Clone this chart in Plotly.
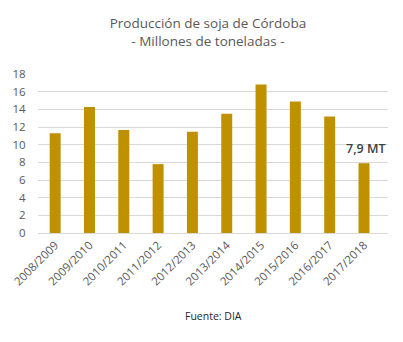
import plotly.graph_objects as go

campaigns = ["2008/2009", "2009/2010", "2010/2011", "2011/2012", "2012/2013",
             "2013/2014", "2014/2015", "2015/2016", "2016/2017", "2017/2018"]
production = [11.3, 14.25, 11.65, 7.8, 11.45, 13.5, 16.8, 14.9, 13.2, 7.9]
y_ticks = [0, 2, 4, 6, 8, 10, 12, 14, 16, 18]
label_text = "7,9 MT"

fig = go.Figure(go.Bar(x=campaigns, y=production, marker_color="#BF9000",
                       marker_line_width=0))

font_family = "Open Sans, Liberation Sans, sans-serif"
fig.update_layout(
    width=403, height=342,
    margin=dict(l=38, r=15, t=74, b=109),
    paper_bgcolor="white", plot_bgcolor="white",
    bargap=0.68,
    showlegend=False,
    font=dict(family=font_family, color="#595959", size=11),
    title=dict(text="Producción de soja de Córdoba<br>- Millones de toneladas -",
               x=0.516, xref="container", xanchor="center",
               y=0.917, yref="container", yanchor="top",
               font=dict(size=13.5, color="#595959", family=font_family)),
    xaxis=dict(tickangle=-45, showgrid=False, showline=True, linecolor="#D9D9D9",
               ticks="", tickfont=dict(size=11.5, color="#595959")),
    yaxis=dict(range=[0, 18], tickvals=y_ticks, showgrid=True, gridcolor="#D9D9D9",
               zeroline=False, showline=False, ticks="outside", ticklen=9,
               tickcolor="rgba(0,0,0,0)",
               tickfont=dict(size=11.5, color="#595959")),
    annotations=[
        dict(x=campaigns[-1], y=production[-1], text=label_text, showarrow=False,
             yanchor="bottom", yshift=4, xshift=2,
             font=dict(size=12.5, color="#404040", family=font_family, weight=600)),
        dict(x=0.5, xref="paper", y=-0.52, yref="paper", yanchor="middle",
             text="Fuente: DIA", showarrow=False,
             font=dict(size=10.5, color="#262626", family=font_family)),
    ],
)

fig.write_html("out.html")
